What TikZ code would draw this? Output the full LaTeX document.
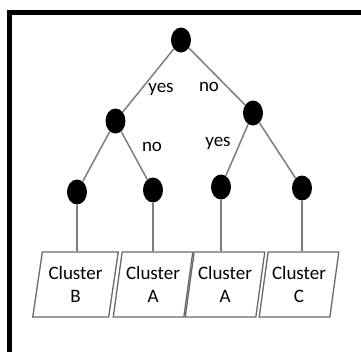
\documentclass[tikz,border=0pt]{standalone}
\usepackage{fontspec}
\setmainfont{Carlito}
\usetikzlibrary{shapes.geometric}
\definecolor{linegray}{RGB}{125,125,125}
\definecolor{boxgray}{RGB}{105,105,105}
\begin{document}
\begin{tikzpicture}[x=1pt,y=-1pt,
  dot/.style={ellipse,fill=black,minimum width=20pt,minimum height=25pt,inner sep=0pt},
  edge/.style={draw=linegray,line width=1.5pt},
  lbl/.style={font=\fontsize{19}{22}\selectfont,inner sep=0pt},
  cluster/.style={trapezium,trapezium left angle=78,trapezium right angle=102,
    trapezium stretches=true,minimum height=65pt,draw=boxgray,line width=1.3pt,
    align=center,inner sep=0pt,font=\fontsize{19}{23.5}\selectfont}
]
\useasboundingbox (0,0) rectangle (361,351);
\fill[white] (0,0) rectangle (361,351);
\begin{scope}
\clip (0,0) rectangle (361,351);
\draw[line width=5pt] (9.5,370) -- (9.5,12) -- (380,12);
\end{scope}
% tree nodes
\node[dot] (r) at (181,40) {};
\node[dot] (a) at (115.5,121) {};
\node[dot] (b) at (253,113) {};
\node[dot] (l1) at (77,192) {};
\node[dot] (l2) at (153,190) {};
\node[dot] (l3) at (221,187) {};
\node[dot] (l4) at (302,188) {};
% cluster boxes
\node[cluster,minimum width=86pt] (c1) at (75.5,284.5) {Cluster\\B};
\node[cluster,minimum width=80pt] (c2) at (153,284.5) {Cluster\\A};
\node[cluster,minimum width=80pt] (c3) at (225,284.5) {Cluster\\A};
\node[cluster,minimum width=80pt] (c4) at (299,284.5) {Cluster\\C};
% connectors
\draw[edge] (r) -- (a);
\draw[edge] (r) -- (b);
\draw[edge] (a) -- (l1);
\draw[edge] (a) -- (l2);
\draw[edge] (b) -- (l3);
\draw[edge] (b) -- (l4);
\draw[edge] (l1) -- (l1 |- c1.north);
\draw[edge] (l2) -- (l2 |- c2.north);
\draw[edge] (l3) -- (l3 |- c3.north);
\draw[edge] (l4) -- (l4 |- c4.north);
% labels
\node[lbl] (y1) at (161,89) {yes};
\node[lbl] (n1) at (209,87) {no};
\node[lbl] (n2) at (152,147) {no};
\node[lbl] (y2) at (218,143) {yes};
\end{tikzpicture}
\end{document}
